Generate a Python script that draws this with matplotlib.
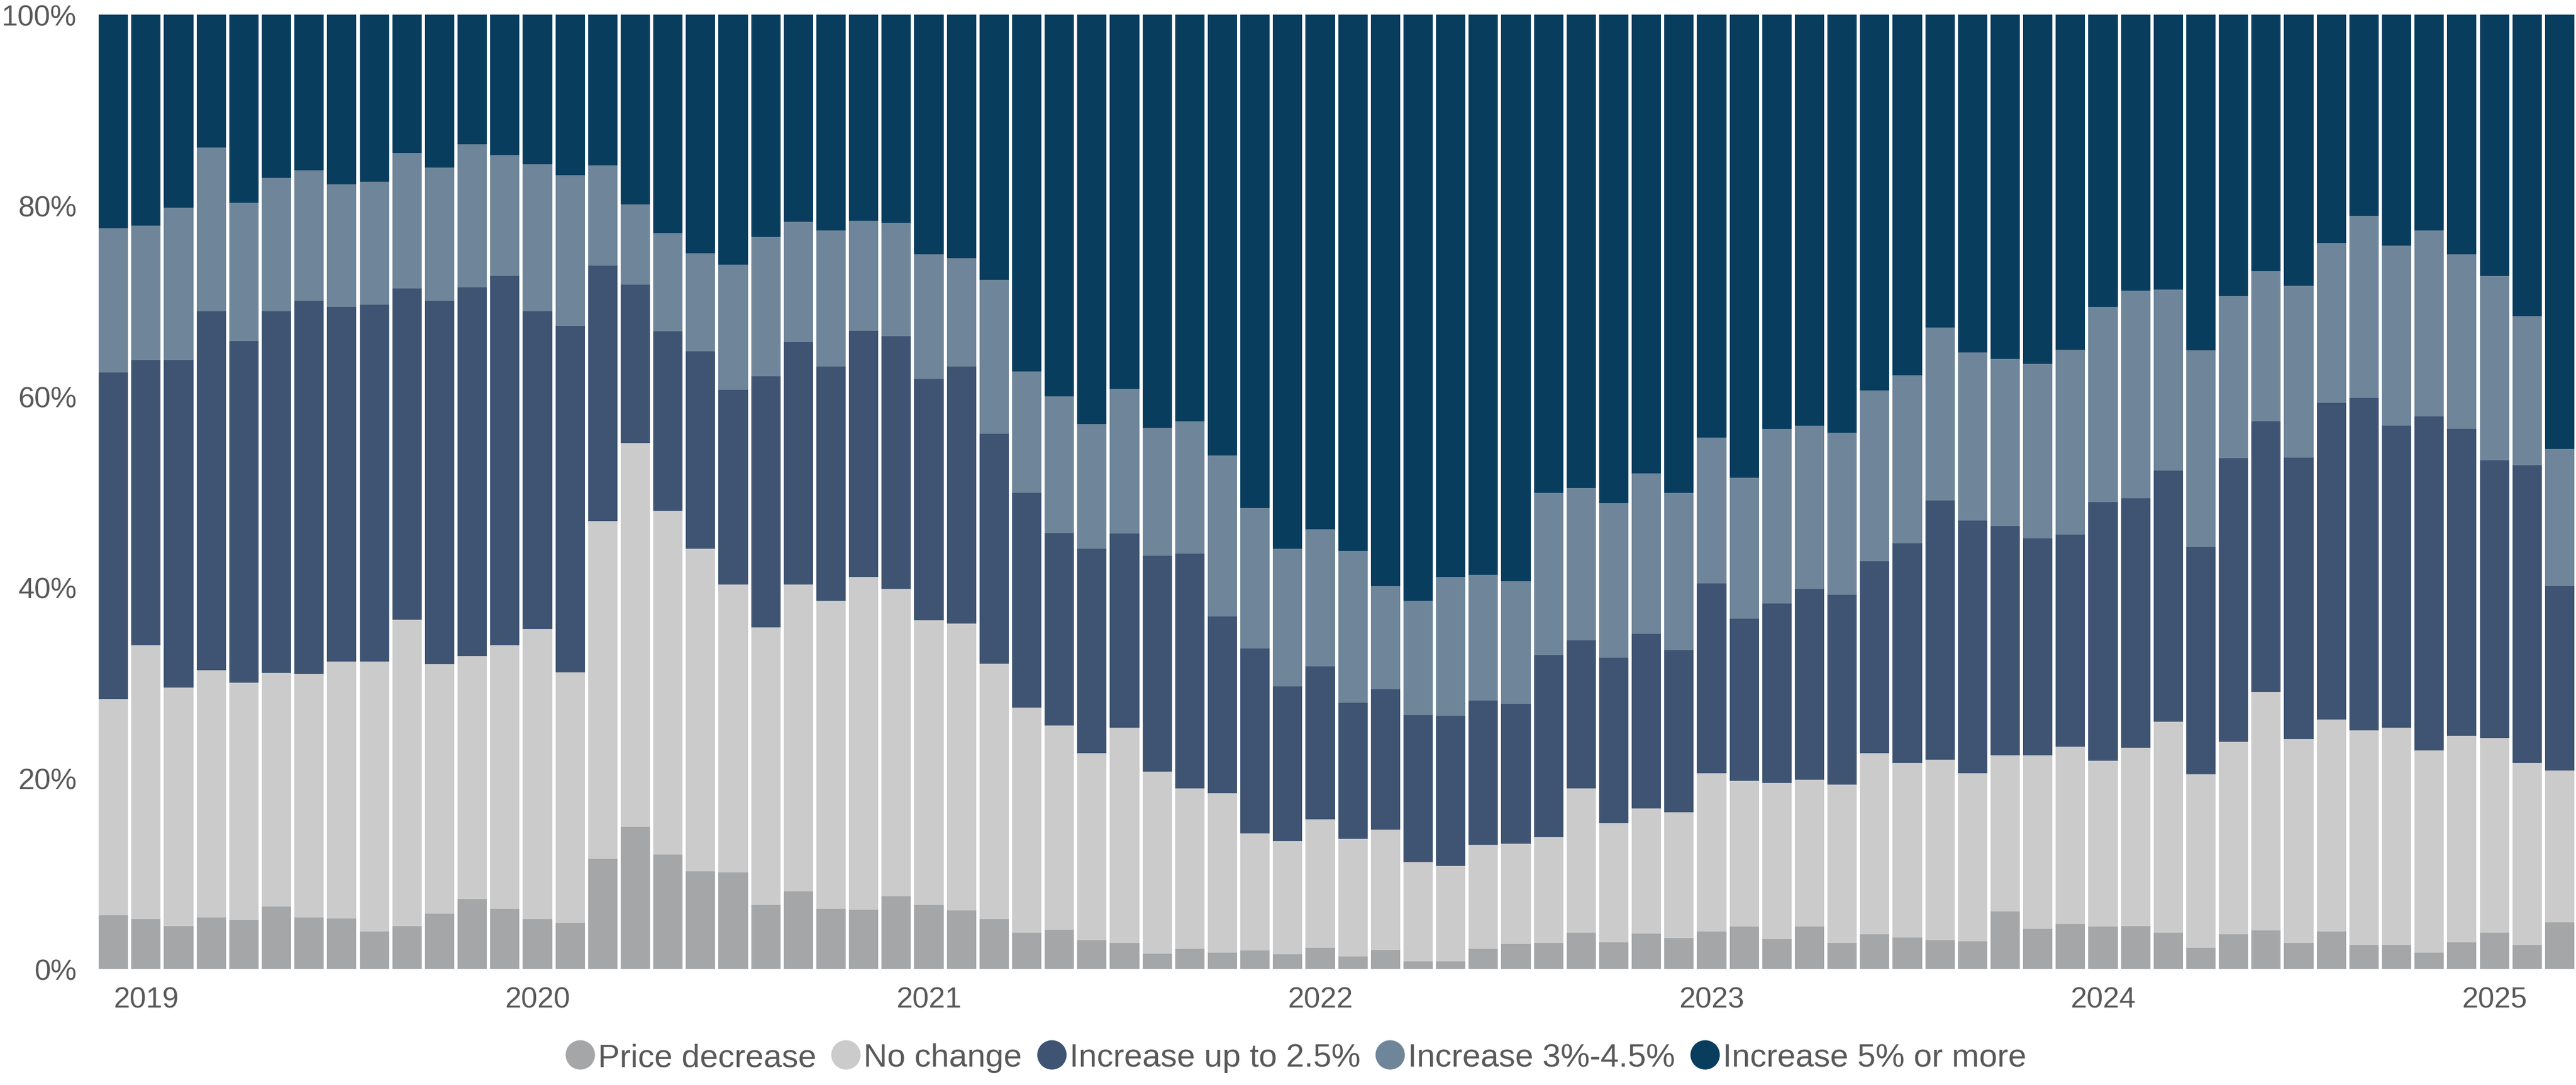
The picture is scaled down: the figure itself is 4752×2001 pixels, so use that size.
import numpy as np
import pandas as pd
import matplotlib
matplotlib.use('Agg')
import matplotlib.pyplot as plt
from matplotlib.lines import Line2D
from matplotlib.ticker import FuncFormatter

plt.rcParams['font.family'] = ['Liberation Sans', 'DejaVu Sans']

# monthly survey, Dec 2018 - Mar 2025 (shares in %)
months = pd.date_range('2018-12-01', '2025-03-01', freq='MS')

price_decrease = [5.6, 5.2, 4.5, 5.4, 5.1, 6.5, 5.4, 5.3, 3.9, 4.5, 5.8, 7.3, 6.3, 5.2, 4.8, 11.5,
                  14.9, 12.0, 10.2, 10.1, 6.7, 8.1, 6.3, 6.2, 7.6, 6.7, 6.1, 5.2, 3.8, 4.1, 3.0, 2.7,
                  1.6, 2.1, 1.7, 1.9, 1.5, 2.2, 1.3, 2.0, 0.8, 0.8, 2.1, 2.6, 2.7, 3.8, 2.8, 3.7,
                  3.2, 3.9, 4.4, 3.1, 4.4, 2.7, 3.6, 3.3, 3.0, 2.9, 6.0, 4.2, 4.7, 4.4, 4.5, 3.8,
                  2.2, 3.6, 4.0, 2.7, 3.9, 2.5, 2.5, 1.7, 2.8, 3.8, 2.5, 4.9]
no_change = [22.7, 28.7, 25.0, 25.9, 24.9, 24.5, 25.5, 26.9, 28.3, 32.1, 26.1, 25.5, 27.6, 30.4, 26.3, 35.4,
             40.2, 36.0, 33.8, 30.2, 29.1, 32.2, 32.3, 34.9, 32.2, 29.8, 30.1, 26.8, 23.6, 21.4, 19.6, 22.6,
             19.1, 16.8, 16.7, 12.3, 11.9, 13.5, 12.3, 12.6, 10.4, 10.0, 10.9, 10.5, 11.1, 15.1, 12.5, 13.1,
             13.2, 16.6, 15.3, 16.4, 15.4, 16.6, 19.0, 18.3, 18.9, 17.6, 16.4, 18.2, 18.6, 17.4, 18.7, 22.1,
             18.2, 20.2, 25.0, 21.4, 22.2, 22.5, 22.8, 21.2, 21.6, 20.4, 19.1, 15.9]
up_to_2_5 = [34.2, 29.9, 34.3, 37.6, 35.8, 37.9, 39.1, 37.2, 37.4, 34.7, 38.1, 38.6, 38.7, 33.3, 36.3, 26.8,
             16.6, 18.8, 20.7, 20.4, 26.3, 25.4, 24.5, 25.8, 26.5, 25.3, 26.9, 24.1, 22.5, 20.2, 21.4, 20.3,
             22.6, 24.6, 18.5, 19.4, 16.2, 16.0, 14.3, 14.7, 15.4, 15.7, 15.1, 14.7, 19.1, 15.5, 17.3, 18.3,
             17.0, 19.9, 17.0, 18.8, 20.0, 19.9, 20.1, 23.0, 27.2, 26.5, 24.0, 22.7, 22.2, 27.1, 26.1, 26.3,
             23.8, 29.7, 28.4, 29.5, 33.2, 34.8, 31.6, 35.0, 32.2, 29.1, 31.2, 19.3]
inc_3_4_5 = [15.1, 14.1, 16.0, 17.2, 14.5, 14.0, 13.7, 12.8, 12.9, 14.2, 14.0, 15.0, 12.7, 15.4, 15.8, 10.5,
             8.4, 10.3, 10.3, 13.1, 14.6, 12.6, 14.3, 11.5, 11.9, 13.1, 11.4, 16.1, 12.7, 14.3, 13.1, 15.2,
             13.4, 13.9, 16.9, 14.7, 14.4, 14.4, 15.9, 10.8, 12.0, 14.6, 13.2, 12.8, 17.0, 16.0, 16.2, 16.8,
             16.5, 15.3, 14.8, 18.3, 17.1, 17.0, 17.9, 17.6, 18.1, 17.6, 17.5, 18.3, 19.4, 20.5, 21.8, 19.0,
             20.6, 17.0, 15.7, 18.0, 16.8, 19.1, 18.9, 19.5, 18.3, 19.3, 15.6, 14.4]
inc_5_plus = [22.4, 22.1, 20.2, 13.9, 19.7, 17.1, 16.3, 17.8, 17.5, 14.5, 16.0, 13.6, 14.7, 15.7, 16.8, 15.8,
              19.9, 22.9, 25.0, 26.2, 23.3, 21.7, 22.6, 21.6, 21.8, 25.1, 25.5, 27.8, 37.4, 40.0, 42.9, 39.2,
              43.3, 42.6, 46.2, 51.7, 56.0, 53.9, 56.2, 59.9, 61.4, 58.9, 58.7, 59.4, 50.1, 49.6, 51.2, 48.1,
              50.1, 44.3, 48.5, 43.4, 43.1, 43.8, 39.4, 37.8, 32.8, 35.4, 36.1, 36.6, 35.1, 30.6, 28.9, 28.8,
              35.2, 29.5, 26.9, 28.4, 23.9, 21.1, 24.2, 22.6, 25.1, 27.4, 31.6, 45.5]

labels = ['Price decrease', 'No change', 'Increase up to 2.5%', 'Increase 3%-4.5%', 'Increase 5% or more']
colors = ['#a5a6a8', '#cbcbcb', '#3e5472', '#6f8599', '#083d5e']
series = [price_decrease, no_change, up_to_2_5, inc_3_4_5, inc_5_plus]

txt = '#595959'

fig = plt.figure(figsize=(15.84, 6.6733), dpi=300)
ax = fig.add_axes([0.0377, 0.107, 0.9623, 0.879])

x = np.arange(len(months))
bottom = np.zeros(len(x))
for vals, col, lab in zip(series, colors, labels):
    vals = np.array(vals)
    ax.bar(x, vals, width=0.9, bottom=bottom, color=col, label=lab, linewidth=0)
    bottom += vals

ax.set_xlim(-0.5, len(x) - 0.5)
ax.set_ylim(0, 100)

jan = [i for i, m in enumerate(months) if m.month == 1]
ax.set_xticks(jan)
ax.set_xticklabels([str(months[i].year) for i in jan])
ax.set_yticks(np.arange(0, 101, 20))
ax.yaxis.set_major_formatter(FuncFormatter(lambda v, p: '%d%%' % v))
ax.tick_params(axis='both', length=0, labelsize=13, colors=txt)
ax.tick_params(axis='x', pad=7.5)
ax.tick_params(axis='y', pad=9)
for s in ax.spines.values():
    s.set_visible(False)

handles = [Line2D([], [], marker='o', linestyle='none', markersize=12, color=c) for c in colors]
fig.legend(handles, labels, loc='center', bbox_to_anchor=(0.503, 0.025), ncol=5, frameon=False,
           fontsize=14.5, handlelength=0.9, handletextpad=0.1, columnspacing=0.45,
           labelcolor=txt, borderpad=0)

fig.savefig('out.png', dpi=300)
